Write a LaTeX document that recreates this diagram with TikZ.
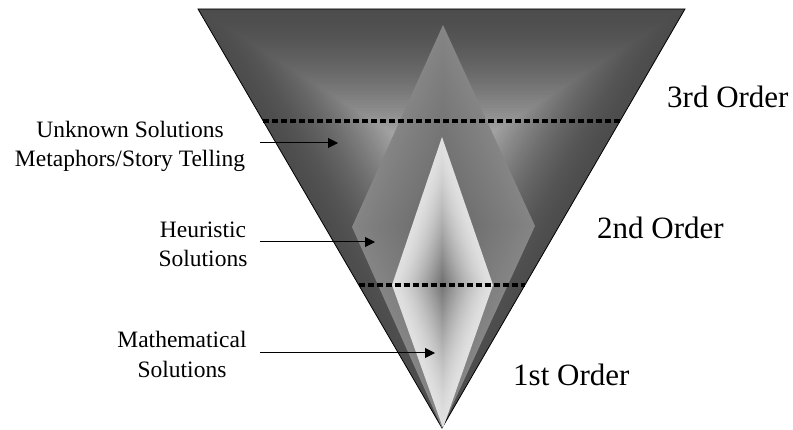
\documentclass[tikz,border=0pt]{standalone}
\usepackage{fontspec}
\setmainfont{Liberation Serif}
\usepackage{xcolor}
\usepackage{tikz}
\usetikzlibrary{arrows.meta,calc}

\tikzset{
  lbl/.style={font=\fontsize{23.5}{29.4}\selectfont,align=center,inner sep=0pt},
  ord/.style={font=\fontsize{31}{37}\selectfont,inner sep=0pt,anchor=base west},
  pointer/.style={line width=1pt,-{Triangle[length=10pt,width=10pt]}},
  cut/.style={line width=4pt,dash pattern=on 6pt off 3pt},
}

\begin{document}
\begin{tikzpicture}[x=1pt,y=-1pt]
  \useasboundingbox (0,0) rectangle (793,430);
  \coordinate (tl) at (198,9);
  \coordinate (tr) at (685,9);
  \coordinate (tb) at (442,428);
  \coordinate (tc) at (442,165);
  \coordinate (mt) at (443,25);
  \coordinate (ml) at (352,227);
  \coordinate (mb) at (442,428);
  \coordinate (mr) at (535,226);
  \coordinate (mc) at (443.5,226.5);
  \coordinate (it) at (442,137);
  \coordinate (il) at (392,285);
  \coordinate (ib) at (443,428);
  \coordinate (ir) at (493,285);
  \coordinate (ic) at (442.5,282.5);
  \foreach \i in {0,...,59}{
    \pgfmathsetmacro\s{1-\i/60}
    \pgfmathsetmacro\gv{0.30+0.5*pow(\i/60+0.001,1.6)}
    \definecolor{shadeT}{gray}{\gv}
    \fill[shadeT] ($(tc)!\s!(tl)$) -- ($(tc)!\s!(tr)$) -- ($(tc)!\s!(tb)$) -- cycle;
  }
  \draw[line width=0.8pt] (tl) -- (tr) -- (tb) -- cycle;
  \foreach \i in {0,...,39}{
    \pgfmathsetmacro\s{1-\i/40}
    \pgfmathsetmacro\gv{0.52-0.12*\i/40}
    \definecolor{shadeM}{gray}{\gv}
    \fill[shadeM] ($(mc)!\s!(mt)$) -- ($(mc)!\s!(ml)$) -- ($(mc)!\s!(mb)$) -- ($(mc)!\s!(mr)$) -- cycle;
  }
  \foreach \i in {0,...,49}{
    \pgfmathsetmacro\s{1-\i/50}
    \pgfmathsetmacro\gv{0.88-0.44*pow(\i/50+0.001,1.5)}
    \definecolor{shadeI}{gray}{\gv}
    \fill[shadeI] ($(ic)!\s!(it)$) -- ($(ic)!\s!(il)$) -- ($(ic)!\s!(ib)$) -- ($(ic)!\s!(ir)$) -- cycle;
  }
  \draw[cut] ($(tl)!0.267!(tb)$) -- ($(tr)!0.267!(tb)$);
  \draw[cut] ($(tl)!0.659!(tb)$) -- ($(tr)!0.659!(tb)$);

  \node[lbl] (unknown) at (130,146.5) {Unknown Solutions\\Metaphors/Story Telling};
  \node[lbl] (heuristic) at (203,244.5) {Heuristic\\Solutions};
  \node[lbl] (math) at (182,354.5) {Mathematical\\Solutions};
  \coordinate (ustart) at (260,143);
  \coordinate (utip) at (338,143);
  \coordinate (hstart) at (260,242);
  \coordinate (htip) at (375,242);
  \coordinate (mstart) at (260,353);
  \coordinate (mtip) at (435,353);
  \draw[pointer] (ustart) -- (utip);
  \draw[pointer] (hstart) -- (htip);
  \draw[pointer] (mstart) -- (mtip);

  \node[ord] (third) at (667,108) {3rd Order};
  \node[ord] (second) at (597,239) {2nd Order};
  \node[ord] (first) at (513,385) {1st Order};
\end{tikzpicture}
\end{document}
